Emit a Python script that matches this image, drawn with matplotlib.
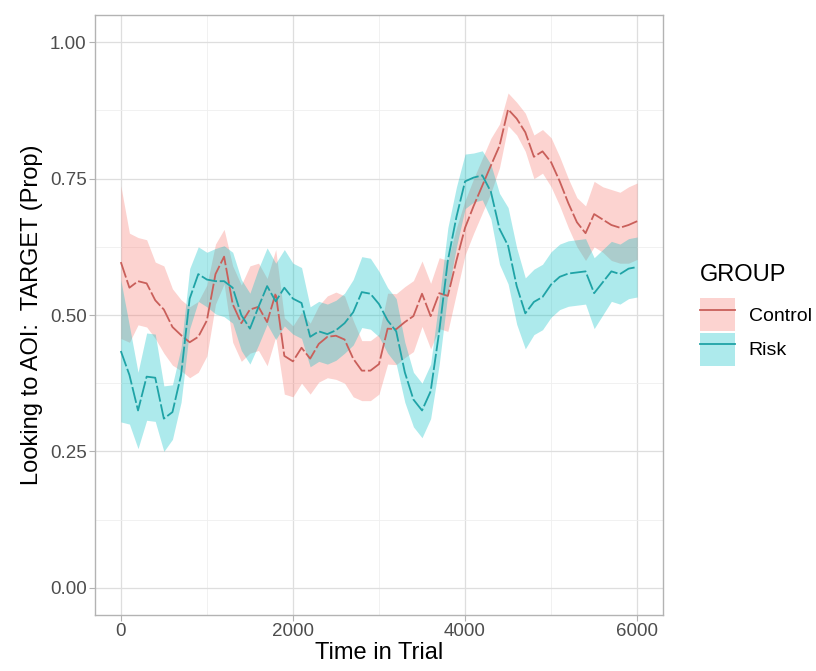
import numpy as np
import matplotlib
matplotlib.use("Agg")
import matplotlib.pyplot as plt
from matplotlib import ticker
from matplotlib.patches import Patch
from matplotlib.lines import Line2D

plt.rcParams["font.family"] = ["Liberation Sans", "DejaVu Sans"]

# time in trial, ms (100 ms bins)
time_ms = np.arange(0, 6001, 100)

control_mean = [
    0.597, 0.55, 0.562, 0.558, 0.527, 0.51, 0.478, 0.463, 0.45, 0.46, 0.49, 0.575, 0.607, 0.52, 0.485,
    0.51, 0.515, 0.487, 0.54, 0.425, 0.415, 0.44, 0.42, 0.447, 0.46, 0.462, 0.455, 0.42, 0.398, 0.398,
    0.41, 0.475, 0.474, 0.487, 0.498, 0.539, 0.498, 0.54, 0.535, 0.60, 0.66, 0.70, 0.737, 0.774, 0.81,
    0.877, 0.86, 0.835, 0.79, 0.80, 0.78, 0.745, 0.705, 0.67, 0.65, 0.685, 0.675, 0.665, 0.66, 0.665, 0.672,
]
control_ci = [
    0.14, 0.10, 0.08, 0.08, 0.07, 0.08, 0.07, 0.065, 0.065, 0.065, 0.065, 0.055, 0.05, 0.07, 0.07,
    0.08, 0.08, 0.08, 0.08, 0.07, 0.065, 0.065, 0.065, 0.07, 0.075, 0.08, 0.08, 0.07, 0.055, 0.055,
    0.055, 0.065, 0.065, 0.065, 0.065, 0.06, 0.06, 0.065, 0.065, 0.06, 0.05, 0.05, 0.05, 0.05, 0.04,
    0.03, 0.03, 0.035, 0.04, 0.04, 0.045, 0.045, 0.045, 0.045, 0.05, 0.06, 0.06, 0.065, 0.065, 0.07, 0.07,
]

risk_mean = [
    0.434, 0.39, 0.325, 0.387, 0.385, 0.31, 0.322, 0.39, 0.53, 0.575, 0.565, 0.562, 0.562, 0.55, 0.50,
    0.475, 0.515, 0.553, 0.525, 0.55, 0.53, 0.522, 0.46, 0.47, 0.465, 0.472, 0.485, 0.505, 0.542, 0.539,
    0.52, 0.49, 0.47, 0.395, 0.345, 0.325, 0.36, 0.47, 0.60, 0.68, 0.745, 0.752, 0.756, 0.726, 0.658,
    0.627, 0.553, 0.503, 0.524, 0.533, 0.556, 0.57, 0.576, 0.578, 0.58, 0.54, 0.56, 0.58, 0.575, 0.585, 0.588,
]
risk_ci = [
    0.13, 0.09, 0.07, 0.08, 0.08, 0.06, 0.05, 0.05, 0.055, 0.05, 0.05, 0.06, 0.065, 0.065, 0.065,
    0.065, 0.07, 0.07, 0.07, 0.07, 0.065, 0.065, 0.055, 0.055, 0.055, 0.055, 0.055, 0.06, 0.065, 0.065,
    0.06, 0.06, 0.06, 0.055, 0.05, 0.05, 0.05, 0.06, 0.06, 0.055, 0.05, 0.045, 0.045, 0.05, 0.065,
    0.07, 0.07, 0.065, 0.06, 0.06, 0.06, 0.06, 0.06, 0.06, 0.06, 0.065, 0.06, 0.055, 0.055, 0.055, 0.055,
]

groups = ["Control", "Risk"]
fill_colors = {"Control": "#F8766D", "Risk": "#00BFC4"}
line_colors = {"Control": "#C95F5A", "Risk": "#1FA3A6"}
series = {
    "Control": (control_mean, control_ci),
    "Risk": (risk_mean, risk_ci),
}

fig = plt.figure(figsize=(8.16, 6.71), dpi=100)
ax = fig.add_axes([95 / 816, 1 - 615 / 671, 568 / 816, 600 / 671])

for g in groups:
    mean, ci = series[g]
    mean = np.array(mean)
    ci = np.array(ci)
    ax.plot(time_ms, mean, color=line_colors[g], lw=1.3, dashes=(9, 1.5), zorder=3)
    ax.fill_between(time_ms, mean - ci, mean + ci, color=fill_colors[g],
                    alpha=0.32, lw=0, zorder=2)

ax.set_xlim(-300, 6300)
ax.set_ylim(-0.05, 1.05)
ax.xaxis.set_major_locator(ticker.MultipleLocator(2000))
ax.xaxis.set_minor_locator(ticker.MultipleLocator(1000))
ax.yaxis.set_major_locator(ticker.MultipleLocator(0.25))
ax.yaxis.set_minor_locator(ticker.MultipleLocator(0.125))
ax.yaxis.set_major_formatter(ticker.FormatStrFormatter("%.2f"))

ax.grid(which="major", color="#DEDEDE", lw=0.9, zorder=0)
ax.grid(which="minor", color="#EFEFEF", lw=0.6, zorder=0)
ax.set_axisbelow(True)
for s in ax.spines.values():
    s.set_color("#B3B3B3")
    s.set_linewidth(1.0)
ax.tick_params(which="major", length=4, color="#B3B3B3", labelsize=13.5,
               labelcolor="#4D4D4D", pad=2)
ax.tick_params(which="minor", length=0)

ax.set_xlabel("Time in Trial", fontsize=17, labelpad=1)
ax.set_ylabel("Looking to AOI:  TARGET (Prop)", fontsize=17, labelpad=5)

handles = [
    (Patch(facecolor=fill_colors[g], alpha=0.32, lw=0),
     Line2D([], [], color=line_colors[g], lw=1.3))
    for g in groups
]
leg = fig.legend(handles, groups, title="GROUP", loc="upper left",
                 bbox_to_anchor=(700 / 816, 1 - 264 / 671), frameon=False,
                 fontsize=14, title_fontsize=17, handlelength=1.8,
                 handleheight=2.2, labelspacing=0.1, handletextpad=0.7,
                 borderpad=0, borderaxespad=0)
leg._legend_box.align = "left"
leg._legend_box.sep = 9

fig.savefig("out.png", dpi=100)
